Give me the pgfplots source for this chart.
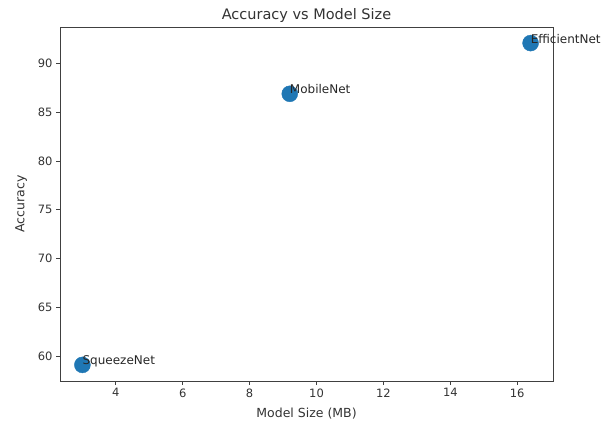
\documentclass[border=0pt]{standalone}
\usepackage{pgfplots}
\pgfplotsset{compat=1.18}
\usepackage{fontspec}
\setmainfont{DejaVu Sans}
\definecolor{mplblue}{HTML}{1F77B4}
\begin{document}
\begin{tikzpicture}[x=1pt,y=1pt]
\begin{axis}[
  at={(60pt,44pt)}, anchor=south west,
  scale only axis, width=493pt, height=354pt,
  xmin=2.33, xmax=17.07, ymin=57.45, ymax=93.75,
  xtick={4,6,...,16}, ytick={60,65,...,90},
  tick align=outside, tick pos=left,
  major tick length=4pt,
  axis line style={line width=0.9pt, black!75},
  every tick/.style={black!75, line width=0.9pt},
  tick label style={font=\fontsize{11.5}{14}\selectfont, text=black!80},
  /pgf/number format/assume math mode=true,
  xlabel={Model Size (MB)}, ylabel={Accuracy},
  label style={font=\fontsize{12.5}{14}\selectfont, text=black!80},
  xlabel style={yshift=-4pt},
  ylabel style={yshift=4pt},
  title={Accuracy vs Model Size},
  title style={font=\fontsize{14.5}{16}\selectfont, text=black!80, yshift=-5pt},
  nodes near coords, point meta=explicit symbolic,
  every node near coord/.append style={anchor=base west, inner sep=0pt, font=\fontsize{12}{14}\selectfont, text=black!85},
]
\addplot[mplblue, only marks, mark=*, mark size=8pt, mark options={fill=mplblue, draw=mplblue}]
  table[meta=label] {
x y label
3.0 59.1 SqueezeNet
9.2 86.9 MobileNet
16.4 92.1 EfficientNet
};
\end{axis}
\pgfresetboundingbox
\useasboundingbox (0,0) rectangle (608,425);
\end{tikzpicture}
\end{document}
